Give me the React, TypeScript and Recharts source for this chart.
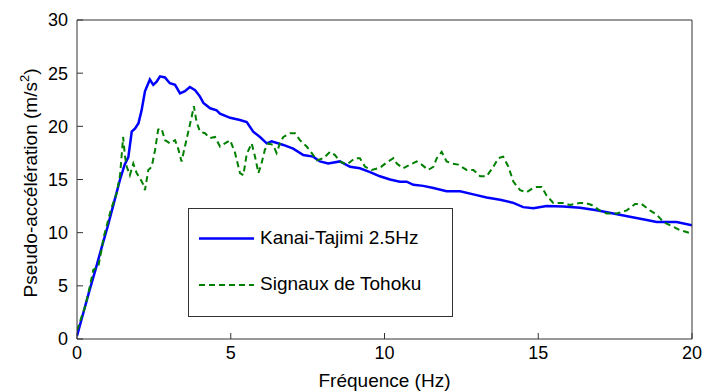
import { LineChart, Line, XAxis, YAxis } from "recharts";

// Kanai-Tajimi 2.5Hz spectrum
const ktFreq = [
  0, 0.2, 0.4, 0.6, 0.8, 1.0, 1.2, 1.4, 1.55, 1.67, 1.78, 1.89, 2.0, 2.1, 2.21, 2.37, 2.48, 2.59, 2.7, 2.86,
  3.02, 3.19, 3.35, 3.51, 3.67, 3.84, 4.0, 4.11, 4.33, 4.54, 4.65, 4.98, 5.3, 5.52, 5.73, 5.95, 6.17, 6.33,
  6.71, 7.03, 7.36, 7.68, 7.9, 8.17, 8.55, 8.88, 9.2, 9.53, 9.85, 10.18, 10.5, 10.72, 10.94, 11.26, 11.59,
  12.02, 12.46, 12.89, 13.32, 13.76, 14.19, 14.51, 14.84, 15.27, 15.81, 16.36, 16.9, 17.44, 17.98, 18.53,
  18.85, 19.5, 20,
];
const ktAccel = [
  0.3, 2.4, 4.5, 6.5, 8.6, 10.6, 12.8, 15.0, 16.4, 17.1, 19.5, 19.8, 20.3, 21.5, 23.3, 24.4, 23.9, 24.2, 24.7, 24.6,
  24.05, 23.9, 23.1, 23.3, 23.7, 23.4, 22.8, 22.2, 21.7, 21.5, 21.2, 20.8, 20.6, 20.4, 19.5, 19.0, 18.4, 18.6,
  18.25, 17.9, 17.3, 17.15, 16.7, 16.5, 16.7, 16.2, 16.05, 15.7, 15.3, 15.0, 14.8, 14.8, 14.5, 14.4, 14.2,
  13.9, 13.9, 13.6, 13.3, 13.1, 12.8, 12.4, 12.3, 12.5, 12.45, 12.35, 12.1, 11.8, 11.5, 11.2,
  11.0, 11.0, 10.7,
];

// Signaux de Tohoku
const tohokuFreq = [
  0, 0.15, 0.26, 0.37, 0.53, 0.69, 0.8, 0.86, 0.97, 1.07, 1.13, 1.29, 1.4, 1.5, 1.56, 1.62, 1.72, 1.83, 1.94,
  2.05, 2.16, 2.21, 2.32, 2.43, 2.54, 2.64, 2.75, 2.86, 3.02, 3.19, 3.29, 3.4, 3.51, 3.62, 3.73, 3.8, 3.89,
  4.0, 4.16, 4.33, 4.49, 4.65, 4.81, 4.98, 5.14, 5.3, 5.41, 5.52, 5.68, 5.79, 5.9, 6.0, 6.11, 6.22, 6.38,
  6.49, 6.6, 6.71, 6.93, 7.09, 7.25, 7.47, 7.63, 7.8, 8.01, 8.23, 8.39, 8.55, 8.77, 9.04, 9.2, 9.37, 9.58,
  9.85, 10.07, 10.29, 10.4, 10.61, 10.83, 11.05, 11.21, 11.42, 11.59, 11.7, 11.86, 12.02, 12.19, 12.4,
  12.67, 12.89, 13.11, 13.32, 13.54, 13.7, 13.86, 14.03, 14.19, 14.41, 14.62, 14.84, 14.95, 15.11, 15.27,
  15.49, 15.81, 16.03, 16.36, 16.52, 16.74, 17.0, 17.23, 17.55, 17.88, 18.15, 18.36, 18.63, 18.85, 19.07,
  19.28, 19.6, 20,
];
const tohokuAccel = [
  0.8, 2.1, 3.0, 4.3, 6.5, 6.8, 8.4, 9.5, 10.7, 11.8, 12.4, 13.7, 15.4, 19.0, 17.2, 16.2, 15.4, 16.5, 15.6,
  15.1, 14.5, 14.0, 15.9, 16.2, 17.8, 19.7, 19.8, 18.7, 18.4, 18.7, 17.9, 16.7, 18.1, 19.5, 20.9, 21.9, 20.4,
  19.5, 19.35, 18.9, 19.0, 18.1, 18.4, 18.7, 17.5, 15.6, 15.4, 17.4, 18.4, 17.15, 15.6, 16.5, 17.8, 18.4, 18.25,
  17.5, 18.4, 19.0, 19.35, 19.35, 18.7, 18.1, 17.5, 16.8, 17.0, 17.6, 17.3, 16.7, 16.4, 17.0, 17.0, 16.2, 15.9,
  16.1, 16.6, 17.0, 16.5, 16.05, 16.4, 16.7, 16.4, 15.9, 16.2, 17.0, 17.6, 16.7, 16.5, 16.4,
  15.9, 15.9, 15.3, 15.3, 16.2, 17.0, 17.15, 16.2, 14.8, 14.0, 13.8, 14.2, 14.3, 14.3, 13.5,
  12.8, 12.8, 12.6, 12.8, 12.8, 12.6, 12.1, 11.8, 11.8, 12.1, 12.7, 12.7, 12.1, 11.7, 11.0,
  10.7, 10.25, 9.9,
];

const xTicks = [0, 5, 10, 15, 20];
const yTicks = [0, 5, 10, 15, 20, 25, 30];

const ktData = ktFreq.map((f, i) => ({ f, a: ktAccel[i] }));
const tohokuData = tohokuFreq.map((f, i) => ({ f, a: tohokuAccel[i] }));

const font = "'Liberation Sans', Arial, sans-serif";
const tickStyle = { fill: "#000", fontSize: 18, fontFamily: font };
const axisColor = "#333";

const YLabel = () => (
  <text
    transform="translate(37,183) rotate(-90)"
    textAnchor="middle"
    fontFamily={font}
    fontSize={19}
    fill="#000"
  >
    Pseudo-accélération (m/s
    <tspan dy={-8} fontSize={13}>2</tspan>
    <tspan dy={8}>)</tspan>
  </text>
);

const LegendBox = () => (
  <div
    style={{
      position: "absolute",
      left: 188,
      top: 208,
      width: 265,
      height: 109,
      boxSizing: "border-box",
      border: "1px solid #333",
      background: "#fff",
      fontFamily: font,
      fontSize: 19,
      color: "#000",
    }}
  >
    <svg width={70} height={107} style={{ position: "absolute", left: 0, top: 0 }}>
      <line x1={10} x2={65} y1={29.5} y2={29.5} stroke="#0000ff" strokeWidth={2.5} />
      <line x1={10} x2={65} y1={76} y2={76} stroke="#008000" strokeWidth={2} strokeDasharray="6 4" />
    </svg>
    <div style={{ position: "absolute", left: 71, top: 18, whiteSpace: "nowrap" }}>Kanai-Tajimi 2.5Hz</div>
    <div style={{ position: "absolute", left: 71, top: 64, whiteSpace: "nowrap" }}>Signaux de Tohoku</div>
  </div>
);

export default function App() {
  return (
    <div style={{ position: "absolute", left: 0, top: 0, width: 702, height: 392, background: "#fff" }}>
      <LineChart width={702} height={392} margin={{ top: 19, right: 9, bottom: 0, left: 20 }}>
        <XAxis
          dataKey="f"
          type="number"
          domain={[0, 20]}
          ticks={xTicks}
          allowDataOverflow
          height={53}
          tickSize={-6}
          tickMargin={13}
          tick={tickStyle}
          stroke={axisColor}
          label={{
            value: "Fréquence (Hz)",
            position: "insideBottom",
            offset: 5,
            style: { fill: "#000", fontSize: 19, fontFamily: font },
          }}
        />
        <XAxis
          xAxisId="top"
          orientation="top"
          type="number"
          domain={[0, 20]}
          ticks={xTicks}
          allowDataOverflow
          height={1}
          tickSize={-6}
          tick={false}
          stroke={axisColor}
        />
        <YAxis
          type="number"
          domain={[0, 30]}
          ticks={yTicks}
          allowDataOverflow
          width={57}
          tickSize={-6}
          tickMargin={15}
          tick={tickStyle}
          stroke={axisColor}
          label={{ content: () => <YLabel /> }}
        />
        <YAxis
          yAxisId="right"
          orientation="right"
          type="number"
          domain={[0, 30]}
          ticks={yTicks}
          allowDataOverflow
          width={1}
          tickSize={-6}
          tick={false}
          stroke={axisColor}
        />
        <Line
          data={ktData}
          dataKey="a"
          type="linear"
          stroke="#0000ff"
          strokeWidth={2.5}
          dot={false}
          isAnimationActive={false}
        />
        <Line
          data={tohokuData}
          dataKey="a"
          type="linear"
          stroke="#008000"
          strokeWidth={2}
          strokeDasharray="6 4"
          dot={false}
          isAnimationActive={false}
        />
      </LineChart>
      <LegendBox />
    </div>
  );
}
